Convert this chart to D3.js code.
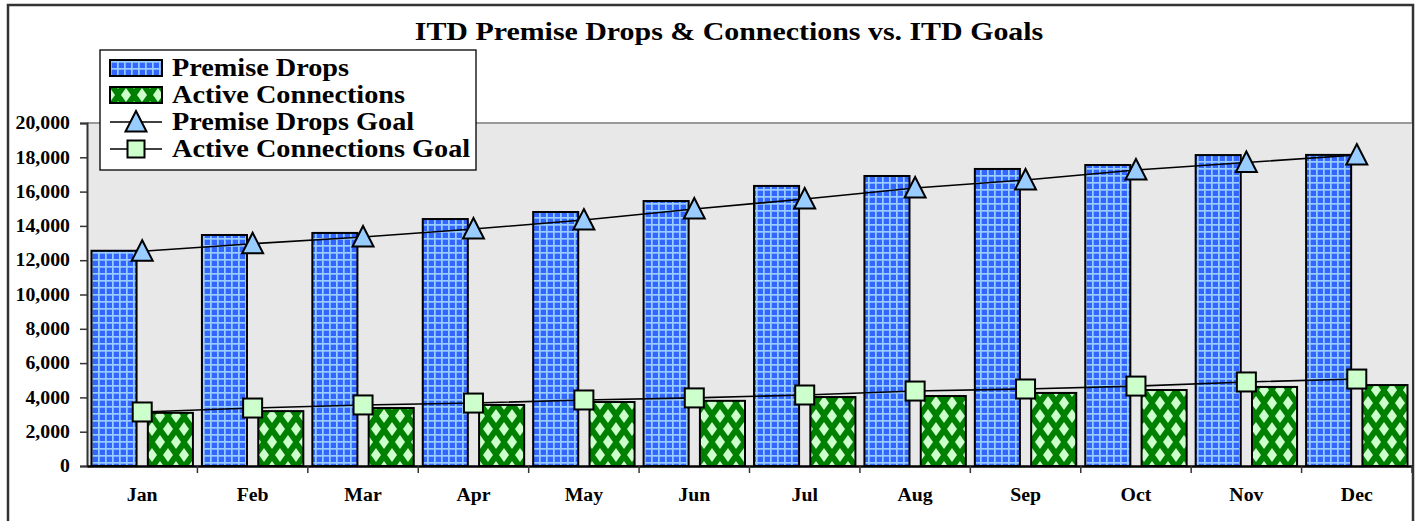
<!DOCTYPE html>
<html>
<head>
<meta charset="utf-8">
<script src="https://cdn.jsdelivr.net/npm/d3@7"></script>
<style>
  body { margin: 0; background: #fff; }
  svg { display: block; }
</style>
</head>
<body>
<div id="chart"></div>
<script>
const WIDTH = 1418;
const HEIGHT = 521;

const months = ['Jan', 'Feb', 'Mar', 'Apr', 'May', 'Jun', 'Jul', 'Aug', 'Sep', 'Oct', 'Nov', 'Dec'];
const premiseDrops = [12550, 13470, 13590, 14400, 14810, 15450, 16330, 16910, 17320, 17550, 18130, 18140];
const activeConnections = [3100, 3200, 3380, 3560, 3730, 3800, 4020, 4080, 4260, 4430, 4610, 4720];
const premiseDropsGoal = [12520, 12960, 13350, 13820, 14340, 14990, 15570, 16210, 16680, 17260, 17700, 18130];
const activeConnectionsGoal = [3150, 3380, 3560, 3670, 3850, 3970, 4140, 4370, 4490, 4660, 4900, 5070];
const yTicks = [0, 2000, 4000, 6000, 8000, 10000, 12000, 14000, 16000, 18000, 20000];
const legendLabels = ['Premise Drops', 'Active Connections', 'Premise Drops Goal', 'Active Connections Goal'];

const FONT = "'Liberation Serif', 'Times New Roman', serif";
const STRETCH = 1.13; // widen Times to look like Palatino

const plot = { left: 87, right: 1412, top: 123, bottom: 466 };

var svg = d3.select("#chart").append("svg")
    .attr("width", WIDTH)
    .attr("height", HEIGHT);

// patterns
var defs = svg.append("defs");
defs.append("filter")
    .attr("id", "soft")
    .append("feGaussianBlur")
    .attr("stdDeviation", 0.6);

var pd = defs.append("pattern")
    .attr("id", "pdPat")
    .attr("patternUnits", "userSpaceOnUse")
    .attr("width", 7).attr("height", 7);
pd.append("rect").attr("width", 7).attr("height", 7).attr("fill", "#3366ff");
pd.append("rect").attr("width", 7).attr("height", 1.7).attr("fill", "#99ccff");
pd.append("rect").attr("width", 1.7).attr("height", 7).attr("fill", "#99ccff");

var ac = defs.append("pattern")
    .attr("id", "acPat")
    .attr("patternUnits", "userSpaceOnUse")
    .attr("width", 16).attr("height", 26);
ac.append("rect").attr("width", 16).attr("height", 26).attr("fill", "#008000");
var acG = ac.append("g").attr("filter", "url(#soft)");
[[8, 13], [0, 0], [16, 0], [0, 26], [16, 26]].forEach(c => {
    acG.append("polygon")
        .attr("points", `${c[0]},${c[1] - 7} ${c[0] + 5},${c[1]} ${c[0]},${c[1] + 7} ${c[0] - 5},${c[1]}`)
        .attr("fill", "#ccffcc");
});

// outer frame
svg.append("rect")
    .attr("x", 8).attr("y", 5)
    .attr("width", 1405).attr("height", 540)
    .attr("fill", "#fff")
    .attr("stroke", "#333")
    .attr("stroke-width", 2.5);

var x = d3.scaleBand()
    .domain(months)
    .range([plot.left, plot.right]);

var x1 = d3.scaleBand()
    .domain(['pd', 'ac'])
    .range([0, x.bandwidth()])
    .paddingInner(0.2)
    .paddingOuter(0.08);

var y = d3.scaleLinear()
    .domain([0, 20000])
    .range([plot.bottom, plot.top]);

// plot area
svg.append("rect")
    .attr("x", plot.left).attr("y", plot.top)
    .attr("width", plot.right - plot.left)
    .attr("height", plot.bottom - plot.top)
    .attr("fill", "#e8e8e8");
svg.append("line")
    .attr("x1", plot.left).attr("x2", plot.right)
    .attr("y1", plot.top).attr("y2", plot.top)
    .attr("stroke", "#999").attr("stroke-width", 2);

function stretch(sel, k) {
    sel.each(function() {
        const w = this.getComputedTextLength();
        d3.select(this).attr("textLength", w * k).attr("lengthAdjust", "spacingAndGlyphs");
    });
}

// bars
svg.append("g").selectAll("rect")
    .data(premiseDrops)
    .join("rect")
    .attr("x", (d, i) => x(months[i]) + x1('pd'))
    .attr("y", d => y(d))
    .attr("width", x1.bandwidth())
    .attr("height", d => y(0) - y(d))
    .attr("fill", "url(#pdPat)")
    .attr("stroke", "#000")
    .attr("stroke-width", 2);

svg.append("g").selectAll("rect")
    .data(activeConnections)
    .join("rect")
    .attr("x", (d, i) => x(months[i]) + x1('ac'))
    .attr("y", d => y(d))
    .attr("width", x1.bandwidth())
    .attr("height", d => y(0) - y(d))
    .attr("fill", "url(#acPat)")
    .attr("stroke", "#000")
    .attr("stroke-width", 2);

// y axis
var yAxis = svg.append("g")
    .attr("transform", `translate(${plot.left},0)`)
    .call(d3.axisLeft(y).tickValues(yTicks).tickFormat(d3.format(",")).tickSize(7).tickPadding(10));
yAxis.select(".domain").attr("stroke", "#333").attr("stroke-width", 2);
yAxis.selectAll(".tick line").attr("stroke", "#333").attr("stroke-width", 1.5);
yAxis.selectAll("text")
    .attr("font-family", FONT)
    .attr("font-weight", "bold")
    .attr("font-size", "18px")
    .attr("fill", "#000")
    .call(stretch, 1.1);

// x axis
var xAxis = svg.append("g")
    .attr("transform", `translate(0,${plot.bottom})`)
    .call(d3.axisBottom(x).tickSize(0).tickPadding(22));
xAxis.select(".domain").attr("stroke", "#000").attr("stroke-width", 2.5);
xAxis.selectAll("text")
    .attr("font-family", FONT)
    .attr("font-weight", "bold")
    .attr("font-size", "18px")
    .attr("fill", "#000")
    .call(stretch, 1.1);
svg.append("g").selectAll("line")
    .data(months)
    .join("line")
    .attr("x1", d => x(d) + x.bandwidth())
    .attr("x2", d => x(d) + x.bandwidth())
    .attr("y1", plot.bottom)
    .attr("y2", plot.bottom + 7)
    .attr("stroke", "#333")
    .attr("stroke-width", 1.5);

// goal lines
var line = d3.line()
    .x((d, i) => x(months[i]) + x.bandwidth() / 2)
    .y(d => y(d));

svg.append("path")
    .datum(premiseDropsGoal)
    .attr("fill", "none")
    .attr("stroke", "#000")
    .attr("stroke-width", 1.6)
    .attr("d", line);
svg.append("path")
    .datum(activeConnectionsGoal)
    .attr("fill", "none")
    .attr("stroke", "#000")
    .attr("stroke-width", 1.6)
    .attr("d", line);

const triPath = "M0,-11L10.5,9.5L-10.5,9.5Z";

svg.append("g").selectAll("path")
    .data(premiseDropsGoal)
    .join("path")
    .attr("transform", (d, i) => `translate(${x(months[i]) + x.bandwidth() / 2},${y(d)})`)
    .attr("d", triPath)
    .attr("fill", "#99ccff")
    .attr("stroke", "#000")
    .attr("stroke-width", 2)
    .attr("stroke-linejoin", "miter");

svg.append("g").selectAll("rect")
    .data(activeConnectionsGoal)
    .join("rect")
    .attr("x", (d, i) => x(months[i]) + x.bandwidth() / 2 - 9.5)
    .attr("y", d => y(d) - 9.5)
    .attr("width", 19).attr("height", 19)
    .attr("fill", "#ccffcc")
    .attr("stroke", "#000")
    .attr("stroke-width", 2);

// title
svg.append("text")
    .attr("x", 729)
    .attr("y", 40)
    .attr("text-anchor", "middle")
    .attr("font-family", FONT)
    .attr("font-weight", "bold")
    .attr("font-size", "26px")
    .text("ITD Premise Drops & Connections vs. ITD Goals")
    .call(stretch, 1.15);

// legend
var legend = svg.append("g");
legend.append("rect")
    .attr("x", 100).attr("y", 50)
    .attr("width", 376).attr("height", 120)
    .attr("fill", "#fff")
    .attr("stroke", "#000")
    .attr("stroke-width", 1.3);

var items = legend.selectAll("g.item")
    .data(legendLabels)
    .join("g")
    .attr("class", "item")
    .attr("transform", (d, i) => `translate(110,${68 + i * 27})`);

items.filter((d, i) => i < 2).append("rect")
    .attr("x", 0).attr("y", -8)
    .attr("width", 52).attr("height", 16)
    .attr("fill", (d, i) => i === 0 ? "url(#pdPat)" : "url(#acPat)")
    .attr("stroke", "#000")
    .attr("stroke-width", 2);

items.filter((d, i) => i >= 2).append("line")
    .attr("x1", 0).attr("x2", 52)
    .attr("stroke", "#000")
    .attr("stroke-width", 1.6);

items.filter((d, i) => i === 2).append("path")
    .attr("transform", "translate(26,0)")
    .attr("d", triPath)
    .attr("fill", "#99ccff")
    .attr("stroke", "#000")
    .attr("stroke-width", 2);

items.filter((d, i) => i === 3).append("rect")
    .attr("x", 26 - 8.5).attr("y", -8.5)
    .attr("width", 17).attr("height", 17)
    .attr("fill", "#ccffcc")
    .attr("stroke", "#000")
    .attr("stroke-width", 2);

items.append("text")
    .attr("x", 62)
    .attr("y", 8)
    .attr("font-family", FONT)
    .attr("font-weight", "bold")
    .attr("font-size", "25px")
    .text(d => d)
    .call(stretch, STRETCH);
</script>
</body>
</html>
